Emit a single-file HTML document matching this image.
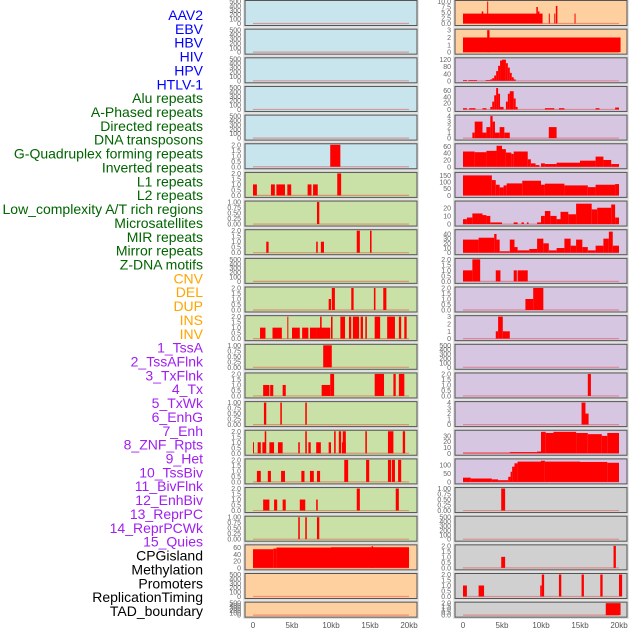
<!DOCTYPE html>
<html><head><meta charset="utf-8"><style>
html,body{margin:0;padding:0;background:#fff;}
svg{display:block;font-family:"Liberation Sans",sans-serif;}
</style></head><body>
<svg id="chart" width="630" height="630" viewBox="0 0 630 630"></svg>
<script>
const labels=["AAV2","EBV","HBV","HIV","HPV","HTLV-1","Alu repeats","A-Phased repeats","Directed repeats","DNA transposons","G-Quadruplex forming repeats","Inverted repeats","L1 repeats","L2 repeats","Low_complexity A/T rich regions","Microsatellites","MIR repeats","Mirror repeats","Z-DNA motifs","CNV","DEL","DUP","INS","INV","1_TssA","2_TssAFlnk","3_TxFlnk","4_Tx","5_TxWk","6_EnhG","7_Enh","8_ZNF_Rpts","9_Het","10_TssBiv","11_BivFlnk","12_EnhBiv","13_ReprPC","14_ReprPCWk","15_Quies","CPGisland","Methylation","Promoters","ReplicationTiming","TAD_boundary"];
const labelGroups=[6,13,5,15,5];
const groupColors=["#0000ff","#006400","#ffa500","#a020f0","#000000"];
const xTickValues=[0,5,10,15,20];
const xTickLabels=["0","5kb","10kb","15kb","20kb"];
const T500=["0","100","200","300","400","500"], T2=["0.0","0.5","1.0","1.5","2.0"], T1=["0.00","0.25","0.50","0.75","1.00"];
const leftTicks=[T500,T500,T500,T500,T500,T2,T2,T1,T2,T500,T2,T2,T1,T2,T1,T2,T2,T2,T1,["0","20","40","60"],T500,T500];
const leftMax=[500,500,500,500,500,2,2,1,2,500,2,2,1,2,1,2,2,2,1,65,500,500];
const leftBars=[[],[],[],[],[],
[[9.9,11.2,2]],
[[0,0.5,1],[2.3,2.8,1],[3,4.1,1],[4.4,4.9,1],[7,7.5,1],[7.7,8.3,1],[10.8,11.3,2]],
[[8.2,8.5,1]],
[[1.7,2.0,1],[8.1,8.3,1],[8.7,9.1,1],[13.3,13.7,2],[15.0,15.2,2]],
[],
[[9.7,10.0,1],[10.1,10.5,2],[12.6,12.9,2],[15.5,15.7,2],[16.7,17.1,2]],
[[0.9,1.6,1],[2.5,3.7,1],[5,6,1],[6.3,7.1,1],[7.3,8.2,1],[8.2,9.9,1],[4.4,4.5,2],[8.6,8.8,2],[10,10.2,2],[11.2,11.8,2],[12.3,12.6,2],[12.8,13.6,2],[13.8,14.1,2],[14.4,14.6,2],[15.6,16.3,2],[17.2,18.2,2],[18.7,19,2],[19.4,19.7,2]],
[[9,10.1,1]],
[[1.3,2.1,1],[2.2,2.6,1],[3.8,4.2,1],[8.8,9.9,1],[9.9,10.4,2],[15.6,16.8,2],[18,18.3,2],[18.7,19.4,2]],
[[1.4,1.7,1],[3.5,3.7,1],[6.7,6.9,1]],
[[0,0.1,1],[0.6,1,1],[1.2,1.6,1],[2.1,2.7,1],[3.2,3.8,1],[5.8,6,1],[7.1,7.4,1],[8.1,8.7,1],[9.7,10,1],[11.4,11.9,1],[1.5,1.7,2],[6.7,6.9,2],[10.4,10.6,2],[11,11.3,2],[11.5,11.9,2],[14.4,14.6,2],[17.3,18,2],[19.2,19.5,2]],
[[0.5,1,1],[1.9,2.3,1],[3.6,4.1,1],[6.2,6.6,1],[7.3,7.8,1],[8.2,8.6,1],[11.7,12.2,2],[14.5,14.9,2],[17.3,17.7,2],[17.8,18.2,2],[18.6,19,2]],
[[1.3,2.1,1],[2.7,3.1,1],[3.8,4.2,1],[6,6.7,1],[8.1,8.3,1],[13.3,13.7,2],[18.3,18.7,2]],
[[5.8,6,1],[6.7,6.9,1],[8.2,8.5,1]],
[[0,2.6,55],[2.6,3,57],[3,10,60],[10,20,61],[15.2,15.4,64]],
[],[]];
const rightTicks=[["0.0","2.5","5.0","7.5","10.0"],["0","1","2","3"],["0","40","80","120"],["0","20","40","60"],["0","1","2","3","4"],["0","20","40","60"],["0","50","100","150"],["0","10","20"],["0","10","20","30","40"],T2,T2,["0","1","2","3"],T500,T2,["0","1","2","3","4"],["0","10","20","30"],["0","50","100"],T1,T500,T2,T2,T2];
const rightMax=[10,3,125,70,4,65,165,27,47,2,2,3,500,2,4,38,130,1,500,2,2,2];
const rightBars=[
[[0,10.2,4.5],[2.4,2.6,5.5],[3.1,3.2,10],[9.4,9.6,7.5],[9.6,9.8,5.5],[11,11.1,4.5],[11.7,11.8,4.5],[11.9,12.1,8],[14.3,14.4,4.5]],
[[0,20.2,2],[3.1,3.4,3]],
[[0,0.5,4],[0.7,1.8,4],[2.9,3.5,4],[3.5,3.75,8],[3.75,4,15],[4,4.25,30],[4.25,4.5,55],[4.5,4.75,85],[4.75,5,115],[5,5.5,120],[5.5,5.75,100],[5.75,6,75],[6,6.25,45],[6.25,6.5,20],[6.5,6.75,8]],
[[0,0.5,4],[0.8,1.6,4],[2.5,3,4],[3.5,3.75,8],[3.75,4,25],[4,4.25,45],[4.25,4.5,68],[4.5,4.75,50],[4.75,5.2,8],[5.5,5.75,25],[5.75,6,50],[6,6.5,58],[6.5,6.75,35],[6.75,7,8],[10.5,11.7,4],[12.3,13,4],[17,17.5,4],[19.5,20,6]],
[[1.2,1.5,1],[1.5,2.5,3],[2.5,3,1],[3,3.5,2],[3.5,3.8,4],[3.8,4.1,3],[4.1,4.7,1],[4.7,5.3,2],[5.3,6,1],[11,12,2]],
[[0,1.5,45],[1.5,3,43],[3,4.3,47],[4.3,5,62],[5,5.5,52],[5.5,6.2,42],[6.2,6.5,38],[6.5,8.3,45],[8.3,8.7,22],[8.7,9.3,10],[9.3,9.8,5],[10,10.5,10],[10.5,12,8],[12,15,12],[15,17,18],[17,18,30],[18,19,20],[19,20,8]],
[[0,3.7,150],[3.7,4.2,115],[4.2,4.7,80],[4.7,5.2,60],[5.2,5.6,75],[5.6,7.6,90],[7.6,10,110],[10,10.5,80],[10.5,13,88],[13,16,75],[16,17,62],[17,19.5,80],[19.5,20,85]],
[[0,0.5,6],[0.5,1.2,8],[1.2,2.5,13],[2.5,3,11],[3,3.5,10],[3.5,5,2],[6.5,7,2],[7.5,7.8,2],[8.2,8.4,2],[9.5,10,2],[10,10.5,10],[10.5,11.2,16],[11.2,12,10],[12,12.5,6],[12.5,13.5,15],[13.5,14.5,12],[14.5,16.5,25],[16.5,17.2,18],[17.2,19,20],[19,19.5,24],[19.5,20,8]],
[[0,2,28],[2,4,32],[4,4.3,40],[4.3,4.7,28],[4.7,6,3],[6,6.6,28],[6.6,7,12],[7,8.5,5],[8.5,9.5,8],[9.5,10.3,30],[10.3,11,20],[11,12,5],[12,13,10],[13,13.8,30],[13.8,14.5,15],[14.5,15.3,28],[15.3,16,12],[16,17,5],[17,18,15],[18,18.7,30],[18.7,19.2,45],[19.2,20,15]],
[[0,1.2,1],[1.2,2.2,2],[4.2,4.8,1],[6.5,6.9,1],[7,8.3,1]],
[[8,9,1],[9,10.3,2]],
[[4.2,4.5,1],[4.5,5.1,3],[5.1,6,1]],
[],
[[16,16.4,2]],
[[15.2,15.7,4],[15.7,16.1,2]],
[[0,6,1],[6,9.5,2],[9.5,10,3],[10,10.6,37],[10.6,11.6,35],[11.6,14.5,37],[14.5,16,35],[16,17.8,33],[17.8,18.5,30],[18.5,20,35]],
[[0,1,25],[1,3.7,20],[3.7,4.5,15],[4.5,5.8,10],[5.8,6.1,30],[6.1,6.3,60],[6.3,6.6,90],[6.6,7,110],[7,10,120],[10,10.5,125],[10.5,15,120],[15,18.5,118],[18.5,20,113]],
[[4.9,5.4,1]],
[],
[[4.9,5.4,1],[19.3,19.6,2]],
[[0,0.5,1],[2,2.7,1],[9.9,10.1,1],[10.1,10.4,2],[12.3,12.6,2],[15.2,15.5,2],[17.6,17.9,2],[20,20.4,2]],
[[18.3,20.2,2]]];
const leftBg=["#c8e4ec","#c8e4ec","#c8e4ec","#c8e4ec","#c8e4ec","#c8e4ec","#c9e1a6","#c9e1a6","#c9e1a6","#c9e1a6","#c9e1a6","#c9e1a6","#c9e1a6","#c9e1a6","#c9e1a6","#c9e1a6","#c9e1a6","#c9e1a6","#c9e1a6","#fed0a0","#fed0a0","#fed0a0"];
const rightBg=["#fed0a0","#fed0a0"].concat(Array(15).fill("#d6c6e2"),Array(5).fill("#d0d0d0"));

const NS="http://www.w3.org/2000/svg";
const svg=document.getElementById("chart");
function mk(tag,attrs,parent){const e=document.createElementNS(NS,tag);for(const k in attrs)e.setAttribute(k,attrs[k]);(parent||svg).appendChild(e);return e;}

// labels
let gi=0,cnt=0;
labels.forEach((t,i)=>{
  while(cnt>=labelGroups[gi]){gi++;cnt=0;}
  cnt++;
  const e=mk("text",{x:203,y:15+i*13.86+5,"text-anchor":"end","font-size":"14",fill:groupColors[gi]});
  e.textContent=t;
  
  
});

function panelTop(r){return 0.5+r*28.65;}
function panelH(r){return r===21?15:25;}

function drawPanel(x0,r,bg,ticks,ymax,bars,side){
  const top=panelTop(r),h=panelH(r),w=172;
  const g=mk("g",{});
  
  
  mk("rect",{x:x0-1,y:top-1,width:w+2,height:h+2,fill:"none",stroke:"#ddd","stroke-width":1.5},g);
  mk("rect",{x:x0,y:top,width:w,height:h,fill:bg,stroke:"#555","stroke-width":1},g);
  const y0=top+h-2, y1=top+1;
  const ys=v=>y0-(v/ymax)*(y0-y1);
  const xs=kb=>x0+8+kb/20*156;
  // baseline
  mk("line",{x1:xs(0),x2:xs(20),y1:y0,y2:y0,stroke:"rgba(230,60,60,0.45)","stroke-width":1.2},g);
  bars.forEach(b=>{
    const yy=ys(b[2]);
    const e=mk("rect",{x:xs(b[0]),y:yy,width:Math.max(1,xs(b[1])-xs(b[0])),height:y0-yy,fill:"#ff0000"},g);
    
    
  });
  const n=ticks.length;
  ticks.forEach((t,i)=>{
    const v=i/(n-1)*parseFloat(ticks[n-1]);
    const e=mk("text",{x:x0-4,y:ys(v)+2.5,"text-anchor":"end","font-size":"7",fill:"#666"},g);
    e.textContent=t;
    
    
  });
}
for(let r=0;r<22;r++){
  drawPanel(245,r,leftBg[r],leftTicks[r],leftMax[r],leftBars[r],'left');
  drawPanel(455,r,rightBg[r],rightTicks[r],rightMax[r],rightBars[r],'right');
}
[245,455].forEach(x0=>{
  xTickValues.forEach((v,i)=>{
    const e=mk("text",{x:x0+8+v/20*156,y:628,"text-anchor":"middle","font-size":"8",fill:"#555"});
    e.textContent=xTickLabels[i];
    
    
  });
});
</script>
</body></html>
